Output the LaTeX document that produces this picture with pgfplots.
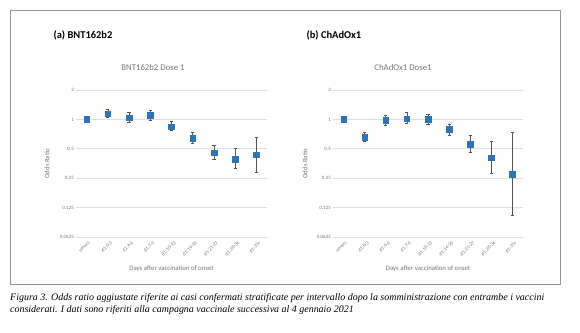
\documentclass[border=0pt]{standalone}
\usepackage{fontspec}
\setmainfont{Carlito}
\newfontfamily\capfont{Liberation Serif}
\usepackage{pgfplots}
\pgfplotsset{compat=1.18}
\definecolor{mblue}{RGB}{46,117,182}
\definecolor{tgray}{RGB}{118,118,118}
\definecolor{ggray}{RGB}{222,222,222}
\definecolor{egray}{RGB}{85,85,85}
\definecolor{fgray}{RGB}{150,150,150}

\begin{document}
\begin{tikzpicture}
\useasboundingbox (0,0) rectangle (580bp,333bp);
\fill[white] (0,0) rectangle (580bp,333bp);
\draw[fgray, line width=1bp] (10bp,322bp) rectangle (560bp,48bp);

% Left panel
\node[anchor=west, font=\bfseries\fontsize{10.5}{12}\selectfont] at (50bp,298bp) {(a) BNT162b2};
\node[font=\fontsize{8.8}{10}\selectfont, text=tgray] at (153bp,266bp) {BNT162b2 Dose 1};
\begin{axis}[
  scale only axis, width=191bp, height=147bp, at={(76bp,96bp)}, anchor=south west,
  ymode=log, log basis y=2, ymin=0.0625, ymax=2,
  ytick={0.0625,0.125,0.25,0.5,1,2},
  yticklabels={0.0625,0.125,0.25,0.5,1,2},
  xmin=-0.5, xmax=8.5, xtick={0,1,2,3,4,5,6,7,8},
  xticklabels={unvacc,d1:0-3,d1:4-6,d1:7-9,d1:10-13,d1:14-20,d1:21-27,d1:28-34,d1:35+},
  axis line style={draw=none}, major tick length=0pt,
  ymajorgrids, grid style={ggray, line width=0.6bp},
  tick label style={font=\fontsize{5}{6}\selectfont, text=tgray},
  xticklabel style={rotate=45, anchor=north east, inner sep=1bp, yshift=-3bp},
  yticklabel style={anchor=east, inner sep=2bp},
  ylabel={Odds Ratio}, xlabel={Days after vaccination of onset},
  label style={font=\fontsize{6.8}{8}\selectfont, text=tgray},
  xlabel style={at={(axis description cs:0.5,0)}, yshift=-32bp, anchor=center},
  ylabel style={at={(axis description cs:0,0.5)}, yshift=29bp, anchor=center},
  clip=false]
\addplot[egray, line width=0.6bp, mark=-, mark size=1.6bp, unbounded coords=jump] coordinates {
(1,1.04) (1,1.26) (1,nan)
(2,0.93) (2,1.17) (2,nan)
(3,0.98) (3,1.24) (3,nan)
(4,0.77) (4,0.95) (4,nan)
(5,0.57) (5,0.73) (5,nan)
(6,0.39) (6,0.54) (6,nan)
(7,0.315) (7,0.50) (7,nan)
(8,0.29) (8,0.66)
};
\addplot[only marks, mark=square*, mark size=2.8bp, mblue] coordinates {
(0,1.0) (1,1.14) (2,1.04) (3,1.105) (4,0.84) (5,0.64) (6,0.457) (7,0.394) (8,0.436)
};
\end{axis}

% Right panel
\node[anchor=west, font=\bfseries\fontsize{10.5}{12}\selectfont] at (303bp,298bp) {(b) ChAdOx1};
\node[font=\fontsize{8.8}{10}\selectfont, text=tgray] at (403bp,266bp) {ChAdOx1 Dose1};
\begin{axis}[
  scale only axis, width=190bp, height=147bp, at={(333bp,96bp)}, anchor=south west,
  ymode=log, log basis y=2, ymin=0.0625, ymax=2,
  ytick={0.0625,0.125,0.25,0.5,1,2},
  yticklabels={0.0625,0.125,0.25,0.5,1,2},
  xmin=-0.5, xmax=8.5, xtick={0,1,2,3,4,5,6,7,8},
  xticklabels={unvacc,d1:0-3,d1:4-6,d1:7-9,d1:10-13,d1:14-20,d1:21-27,d1:28-34,d1:35+},
  axis line style={draw=none}, major tick length=0pt,
  ymajorgrids, grid style={ggray, line width=0.6bp},
  tick label style={font=\fontsize{5}{6}\selectfont, text=tgray},
  xticklabel style={rotate=45, anchor=north east, inner sep=1bp, yshift=-3bp},
  yticklabel style={anchor=east, inner sep=2bp},
  ylabel={Odds Ratio}, xlabel={Days after vaccination of onset},
  label style={font=\fontsize{6.8}{8}\selectfont, text=tgray},
  xlabel style={at={(axis description cs:0.5,0)}, yshift=-32bp, anchor=center},
  ylabel style={at={(axis description cs:0,0.5)}, yshift=28bp, anchor=center},
  clip=false]
\addplot[egray, line width=0.6bp, mark=-, mark size=1.6bp, unbounded coords=jump] coordinates {
(1,0.59) (1,0.73) (1,nan)
(2,0.87) (2,1.105) (2,nan)
(3,0.91) (3,1.17) (3,nan)
(4,0.89) (4,1.14) (4,nan)
(5,0.69) (5,0.90) (5,nan)
(6,0.457) (6,0.69) (6,nan)
(7,0.28) (7,0.59) (7,nan)
(8,0.105) (8,0.73)
};
\addplot[only marks, mark=square*, mark size=2.8bp, mblue] coordinates {
(0,1.0) (1,0.66) (2,0.977) (3,1.02) (4,1.0) (5,0.79) (6,0.556) (7,0.406) (8,0.274)
};
\end{axis}

% Caption
\node[anchor=west, inner sep=0pt, font=\capfont\itshape\fontsize{10}{12}\selectfont] at (10bp,35bp) {Figura 3. Odds ratio aggiustate riferite ai casi confermati stratificate per intervallo dopo la somministrazione con entrambe i vaccini};
\node[anchor=west, inner sep=0pt, font=\capfont\itshape\fontsize{10}{12}\selectfont] at (10bp,23bp) {considerati. I dati sono riferiti alla campagna vaccinale successiva al 4 gennaio 2021};
\end{tikzpicture}
\end{document}
